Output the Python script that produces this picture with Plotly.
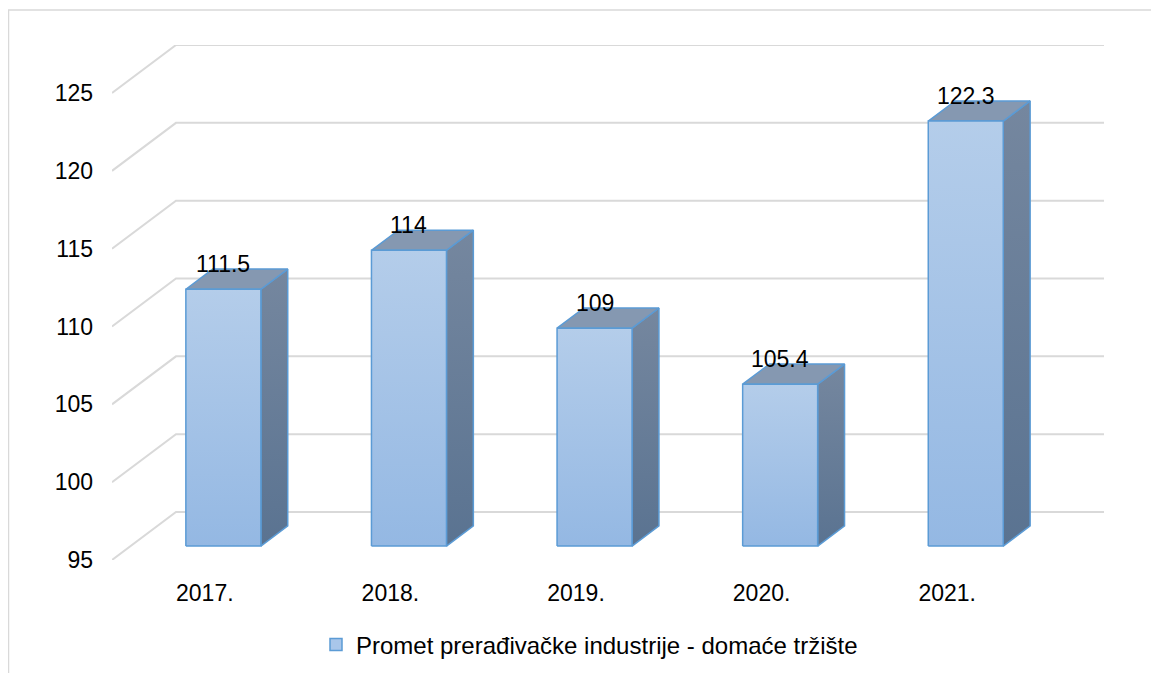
import plotly.graph_objects as go

# ---- data ----
categories = ["2017.", "2018.", "2019.", "2020.", "2021."]
values = [111.5, 114, 109, 105.4, 122.3]
value_labels = ["111.5", "114", "109", "105.4", "122.3"]
y_ticks = [95, 100, 105, 110, 115, 120, 125]
series_name = "Promet prerađivačke industrije - domaće tržište"

# ---- layout geometry (figure pixels; page has an 8px body margin) ----
W, H = 1151, 665
L, T = 104, 37
PR, PB = 1096, 552            # plot right / bottom in figure px
R, B = W - PR, H - PB
pw, ph = PR - L, PB - T
Y0 = 95
Y_PER_PX = 30 / 467.0          # value units per pixel on the front plane
YMAX = Y0 + ph * Y_PER_PX
n = len(categories)
UNIT_PX = (pw - 64) / n        # pixels per category on the front plane
XMAX = pw / UNIT_PX
DX = 64 / UNIT_PX              # depth offset in x units (full depth)
DY = 48 * Y_PER_PX             # depth offset in y units (full depth)
BAR_W = 75 / UNIT_PX
D0, D1 = 0.29, 0.71            # bar depth span

FONT = "Liberation Sans, Arial, sans-serif"
FS = 23
GRID = "#d9d9d9"
EDGE = "#5b9bd5"

fig = go.Figure()

# gridlines: side wall diagonal + back wall horizontal
gx, gy = [], []
for v in y_ticks:
    gx += [0, DX, XMAX, None]
    gy += [v, v + DY, v + DY, None]
fig.add_trace(go.Scatter(x=gx, y=gy, mode="lines", line=dict(color=GRID, width=2),
                         hoverinfo="skip", showlegend=False))

# bars
for i, (cat, v) in enumerate(zip(categories, values)):
    c = i + 0.5
    xl = c - BAR_W / 2 + D0 * DX
    xr = c + BAR_W / 2 + D0 * DX
    yb = Y0 + D0 * DY
    yt = v + D0 * DY
    ox, oy = (D1 - D0) * DX, (D1 - D0) * DY
    # side face
    fig.add_trace(go.Scatter(
        x=[xr, xr + ox, xr + ox, xr, xr], y=[yb, yb + oy, yt + oy, yt, yb],
        mode="lines", fill="toself", line=dict(color=EDGE, width=1.5),
        fillgradient=dict(type="vertical", start=yb, stop=yt + oy,
                          colorscale=[[0, "#5a7391"], [1, "#75879f"]]),
        hoverinfo="skip", showlegend=False))
    # top face
    fig.add_trace(go.Scatter(
        x=[xl, xr, xr + ox, xl + ox, xl], y=[yt, yt, yt + oy, yt + oy, yt],
        mode="lines", fill="toself", fillcolor="#8598b1", line=dict(color=EDGE, width=1.5),
        hoverinfo="skip", showlegend=False))
    # front face
    fig.add_trace(go.Scatter(
        x=[xl, xr, xr, xl, xl], y=[yb, yb, yt, yt, yb],
        mode="lines", fill="toself", line=dict(color=EDGE, width=1.5),
        fillgradient=dict(type="vertical", start=yb, stop=yt,
                          colorscale=[[0, "#94b8e3"], [1, "#b4cdea"]]),
        hoverinfo="skip", showlegend=False))
    fig.add_annotation(x=c + D0 * DX, y=v + D1 * DY, text=value_labels[i], showarrow=False,
                       yshift=5, yanchor="middle",
                       font=dict(family=FONT, size=FS, color="#000000"))

# legend entry
fig.add_trace(go.Scatter(x=[None], y=[None], mode="markers", name=series_name,
                         marker=dict(symbol="square", size=12, color="#a9c6ea",
                                     line=dict(color=EDGE, width=1.5))))

# chart frame
fig.add_shape(type="rect", xref="paper", yref="paper",
              x0=(0.5 - L) / pw, x1=(W + 20 - L) / pw,
              y0=(PB - (H + 20)) / ph, y1=(PB - 2) / ph,
              line=dict(color=GRID, width=1.5), fillcolor="rgba(0,0,0,0)", layer="below")

fig.update_layout(
    width=W, height=H,
    margin=dict(l=L, r=R, t=T, b=B, pad=0, autoexpand=False),
    paper_bgcolor="white", plot_bgcolor="white",
    font=dict(family=FONT, size=FS, color="#000000"),
    xaxis=dict(range=[0, XMAX], showgrid=False, zeroline=False, showline=False,
               tickmode="array", tickvals=[i + 0.5 for i in range(n)], ticktext=categories,
               ticks="", ticklabelstandoff=17, fixedrange=True, automargin=False),
    yaxis=dict(range=[Y0, YMAX], showgrid=False, zeroline=False, showline=False,
               tickmode="array", tickvals=y_ticks, ticks="", ticklabelstandoff=18,
               fixedrange=True, automargin=False),
    showlegend=True,
    legend=dict(orientation="h", x=(308 - L) / pw, xanchor="left",
                y=(PB - 637) / ph, yanchor="middle",
                font=dict(family=FONT, size=FS + 1, color="#000000"),
                bgcolor="rgba(0,0,0,0)", itemwidth=30),
)

fig.write_html("out.html")
